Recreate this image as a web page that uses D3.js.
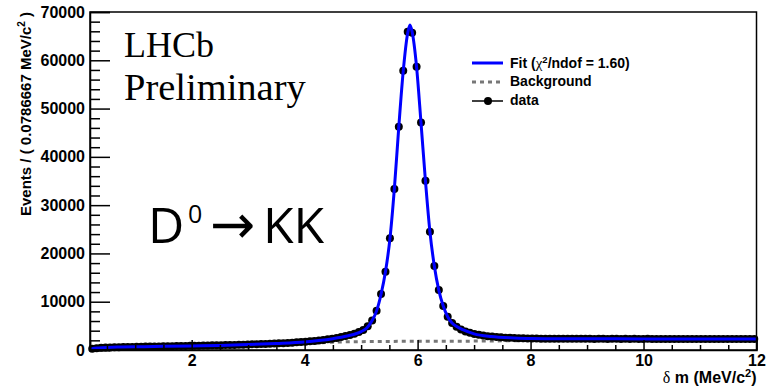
<!DOCTYPE html>
<html>
<head>
<meta charset="utf-8">
<script src="https://cdn.jsdelivr.net/npm/d3@7"></script>
<style>
  body { margin: 0; background: #fff; }
  svg { display: block; }
  .axis text { font-family: "Liberation Sans", Arial, sans-serif; font-weight: bold; font-size: 16px; fill: #000; }
  .axis path, .axis line { stroke: #000; stroke-width: 1.5px; }
  .leg { font-family: "Liberation Sans", Arial, sans-serif; font-weight: bold; font-size: 14px; }
</style>
</head>
<body>
<div id="chart"></div>
<script>
// histogram: 150 bins of 0.0786667 MeV/c^2 starting at 0.2
const xMin = 0.2, xMax = 12, binWidth = 0.0786667;
const counts = [
  250, 380, 450, 500, 530, 560, 580, 600, 620, 640,
  660, 680, 700, 710, 730, 750, 760, 780, 800, 810,
  830, 850, 860, 880, 900, 920, 940, 960, 980, 1000,
  1020, 1040, 1060, 1090, 1110, 1140, 1170, 1200, 1230, 1260,
  1300, 1340, 1380, 1420, 1470, 1520, 1580, 1640, 1710, 1790,
  1880, 1980, 2090, 2210, 2350, 2500, 2680, 2880, 3110, 3380,
  3720, 4150, 4900, 6100, 8140, 11600, 16220, 23130, 33340, 46240,
  57840, 65920, 65720, 58670, 47120, 35060, 24500, 17400, 12430, 9110,
  6900, 5600, 4800, 4250, 3850, 3550, 3320, 3140, 2990, 2870,
  2770, 2690, 2620, 2560, 2520, 2480, 2450, 2420, 2400, 2380, 2360,
  2350, 2340, 2330, 2345, 2320, 2335, 2310, 2325, 2330, 2305,
  2320, 2315, 2300, 2325, 2310, 2295, 2320, 2305, 2300, 2315,
  2290, 2310, 2300, 2285, 2305, 2295, 2300, 2280, 2300, 2290,
  2295, 2280, 2300, 2285, 2275, 2295, 2280, 2290, 2270, 2285,
  2280, 2275, 2290, 2270, 2280, 2275, 2265, 2280, 2270
];

// total fit curve
const fitX = [0.2, 0.24, 0.35, 0.5, 0.75, 1.0, 1.5, 2.0, 2.5, 3.0, 3.5, 4.0, 4.25, 4.5, 4.75, 5.0, 5.1,
  5.195, 5.274, 5.352, 5.431, 5.510, 5.588, 5.667, 5.746, 5.824, 5.865, 5.903, 5.982, 6.060, 6.139,
  6.218, 6.296, 6.375, 6.454, 6.532, 6.61, 6.70, 6.80, 7.0, 7.3, 7.7, 8.0, 9.0, 10.0, 11.0, 12.0];
const fitY = [150, 270, 420, 540, 610, 660, 760, 850, 940, 1120, 1360, 1680, 1960, 2350, 2900, 3800, 4550,
  6100, 8100, 11500, 16200, 23000, 33300, 46200, 57800, 65600, 67300, 65900, 58600, 47100, 35000,
  24500, 17400, 12400, 9100, 6900, 5600, 4800, 4200, 3350, 2780, 2490, 2380, 2320, 2300, 2290, 2280];

// background component
const bgX = [0.2, 0.3, 0.5, 1, 2, 3, 4, 4.6, 5.5, 7, 8, 10, 12];
const bgY = [0, 250, 420, 560, 780, 1020, 1330, 1650, 1780, 1840, 1950, 2060, 2150];

const xTicks = [2, 4, 6, 8, 10, 12];
const xMinor = [0.5, 1, 1.5, 2.5, 3, 3.5, 4.5, 5, 5.5, 6.5, 7, 7.5, 8.5, 9, 9.5, 10.5, 11, 11.5];
const yTicks = [0, 10000, 20000, 30000, 40000, 50000, 60000, 70000];
const yMinor = d3.range(0, 70001, 2000).filter(v => v % 10000 !== 0);

const width = 773, height = 388;
const margin = { top: 12, right: 16.5, bottom: 38, left: 90 };

const svg = d3.select('#chart').append('svg')
  .attr('width', width).attr('height', height);

const x = d3.scaleLinear().domain([xMin, xMax]).range([margin.left, width - margin.right]);
const y = d3.scaleLinear().domain([0, 70000]).range([height - margin.bottom, margin.top]);

const bins = counts.map((c, i) => ({ x: xMin + (i + 0.5) * binWidth, c }));

// background (dashed)
svg.append('path')
  .datum(bgX.map((v, i) => [v, bgY[i]]))
  .attr('fill', 'none')
  .attr('stroke', '#777')
  .attr('stroke-width', 3)
  .attr('stroke-dasharray', '4,4')
  .attr('d', d3.line().x(d => x(d[0])).y(d => y(d[1])).curve(d3.curveMonotoneX));

// data with error bars
const pts = svg.append('g');
pts.selectAll('line.h').data(bins).join('line')
  .attr('x1', d => x(d.x - binWidth / 2)).attr('x2', d => x(d.x + binWidth / 2))
  .attr('y1', d => y(d.c)).attr('y2', d => y(d.c))
  .attr('stroke', '#000').attr('stroke-width', 1);
pts.selectAll('line.v').data(bins).join('line')
  .attr('x1', d => x(d.x)).attr('x2', d => x(d.x))
  .attr('y1', d => y(d.c - Math.sqrt(d.c))).attr('y2', d => y(d.c + Math.sqrt(d.c)))
  .attr('stroke', '#000').attr('stroke-width', 1);
pts.selectAll('circle').data(bins).join('circle')
  .attr('cx', d => x(d.x)).attr('cy', d => y(d.c)).attr('r', 4).attr('fill', '#000');

// fit
svg.append('path')
  .datum(fitX.map((v, i) => [v, fitY[i]]))
  .attr('fill', 'none')
  .attr('stroke', '#0000ff')
  .attr('stroke-width', 3)
  .attr('d', d3.line().x(d => x(d[0])).y(d => y(d[1])).curve(d3.curveMonotoneX));

// frame
svg.append('rect')
  .attr('x', margin.left).attr('y', margin.top)
  .attr('width', width - margin.right - margin.left)
  .attr('height', height - margin.bottom - margin.top)
  .attr('fill', 'none').attr('stroke', '#000').attr('stroke-width', 1.5);

// axes
const gx = svg.append('g').attr('class', 'axis')
  .attr('transform', `translate(0,${height - margin.bottom})`);
gx.call(d3.axisBottom(x).tickValues(xTicks).tickSize(-10).tickPadding(5).tickFormat(d3.format('d')));
gx.append('g').call(d3.axisBottom(x).tickValues(xMinor).tickSize(-5).tickFormat(''))
  .call(g => g.select('.domain').remove());

const gy = svg.append('g').attr('class', 'axis')
  .attr('transform', `translate(${margin.left},0)`);
gy.call(d3.axisLeft(y).tickValues(yTicks).tickSize(-20).tickPadding(5).tickFormat(d3.format('d')));
gy.append('g').call(d3.axisLeft(y).tickValues(yMinor).tickSize(-10).tickFormat(''))
  .call(g => g.select('.domain').remove());

// axis titles
const xt = svg.append('text')
  .attr('x', width - margin.right).attr('y', 383)
  .attr('text-anchor', 'end')
  .style('font-family', '"Liberation Sans", Arial, sans-serif')
  .style('font-weight', 'bold').style('font-size', '16px');
xt.append('tspan').style('font-family', '"Liberation Serif", serif').style('font-weight', 'normal').text('δ');
xt.append('tspan').text(' m (MeV/c');
xt.append('tspan').attr('dy', -6).style('font-size', '11px').text('2');
xt.append('tspan').attr('dy', 6).text(')');

const yt = svg.append('text')
  .attr('transform', `translate(31,${margin.top}) rotate(-90)`)
  .attr('text-anchor', 'end')
  .style('font-family', '"Liberation Sans", Arial, sans-serif')
  .style('font-weight', 'bold').style('font-size', '15px');
yt.append('tspan').text('Events / ( 0.0786667 MeV/c');
yt.append('tspan').attr('dy', -6).style('font-size', '10px').text('2');
yt.append('tspan').attr('dy', 6).text(' )');

// LHCb label
svg.append('text').attr('x', 124).attr('y', 57)
  .style('font-family', '"Liberation Serif", "Times New Roman", serif').style('font-size', '36px')
  .text('LHCb');
svg.append('text').attr('x', 124).attr('y', 100)
  .style('font-family', '"Liberation Serif", "Times New Roman", serif').style('font-size', '38.5px')
  .text('Preliminary');

// decay label
const dk = svg.append('text').attr('y', 243)
  .style('font-family', '"Open Sans", sans-serif').style('font-size', '50px');
dk.append('tspan').attr('x', 148).text('D');
dk.append('tspan').attr('x', 188).attr('dy', -20).style('font-size', '25px').text('0');
dk.append('tspan').attr('x', 210).attr('dy', 20).style('font-family', '"DejaVu Sans", sans-serif').style('font-size', '54px').text('→');
dk.append('tspan').attr('x', 263).text('KK');

// legend
const leg = svg.append('g');
leg.append('line').attr('x1', 472).attr('x2', 503).attr('y1', 63).attr('y2', 63)
  .attr('stroke', '#0000ff').attr('stroke-width', 3);
leg.append('line').attr('x1', 472).attr('x2', 503).attr('y1', 82).attr('y2', 82)
  .attr('stroke', '#777').attr('stroke-width', 3).attr('stroke-dasharray', '4,4');
leg.append('line').attr('x1', 472).attr('x2', 503).attr('y1', 101).attr('y2', 101)
  .attr('stroke', '#000').attr('stroke-width', 1.5);
leg.append('circle').attr('cx', 488).attr('cy', 101).attr('r', 4).attr('fill', '#000');

const t1 = leg.append('text').attr('class', 'leg').attr('x', 510).attr('y', 67.5);
t1.append('tspan').text('Fit (');
t1.append('tspan').style('font-family', '"Liberation Serif", serif').style('font-weight', 'normal').style('font-size', '15px').text('χ');
t1.append('tspan').attr('dy', -5).style('font-size', '9.5px').text('2');
t1.append('tspan').attr('dy', 5).text('/ndof = 1.60)');
leg.append('text').attr('class', 'leg').attr('x', 510).attr('y', 86).text('Background');
leg.append('text').attr('class', 'leg').attr('x', 510).attr('y', 105).text('data');
</script>
</body>
</html>
